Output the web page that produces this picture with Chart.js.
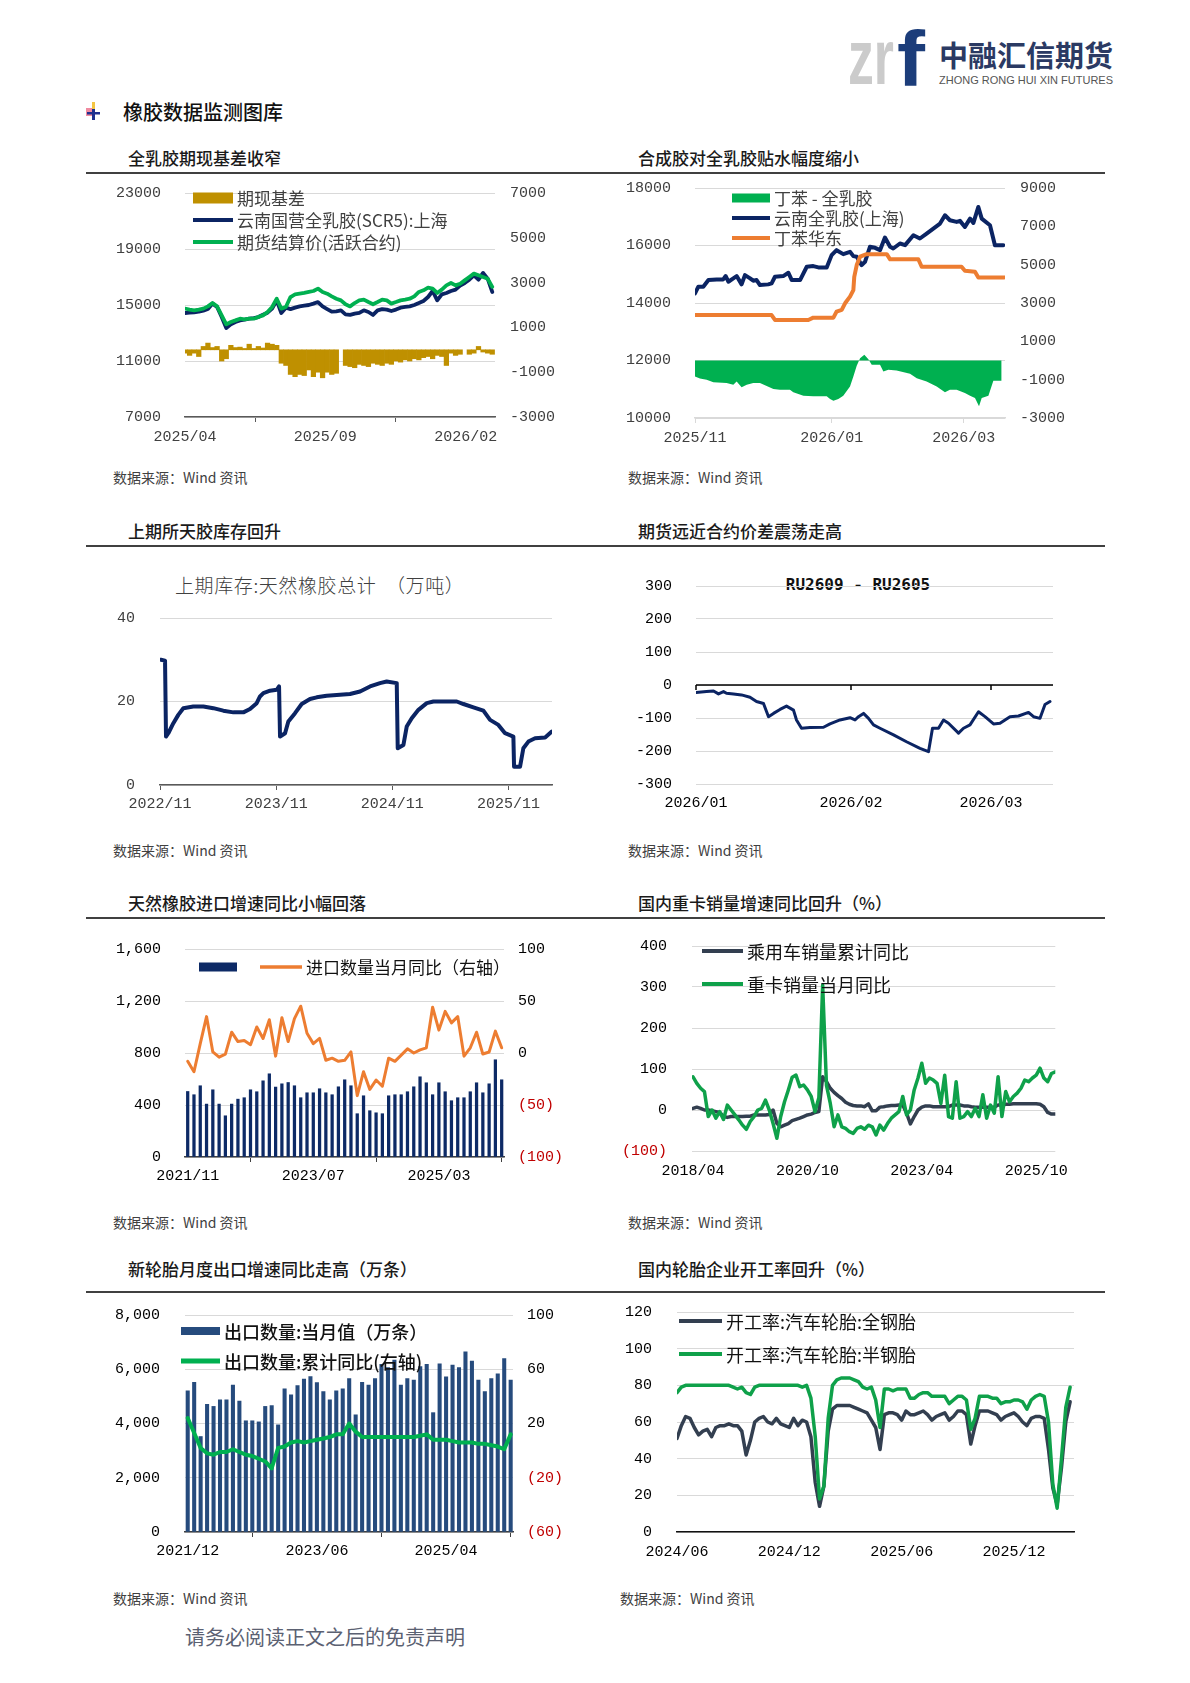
<!DOCTYPE html>
<html lang="zh-CN">
<head>
<meta charset="utf-8">
<title>橡胶数据监测图库</title>
<script src="https://cdn.jsdelivr.net/npm/chart.js@4.4.1/dist/chart.umd.min.js"></script>
<style>
  html, body { margin: 0; padding: 0; background: #fff; }
  body { position: relative; width: 1190px; height: 1683px; overflow: hidden; font-family: "Noto Sans CJK SC", sans-serif; }
  .t { position: absolute; white-space: nowrap; line-height: 1; }
  .sec { font-size: 17px; font-weight: 500; color: #1a1a1a; }
  .src { font-size: 14px; color: #404040; }
  .rule { position: absolute; left: 86px; width: 1019px; height: 1.5px; background: #404040; }
</style>
</head>
<body>

<!-- logo -->
<svg style="position:absolute;left:846px;top:28px" width="280" height="62">
  <text x="2" y="56" font-family="Liberation Sans" font-weight="bold" font-size="78" fill="#cbcbcb" textLength="46" lengthAdjust="spacingAndGlyphs">zr</text>
  <text x="51" y="58" font-family="Liberation Sans" font-weight="bold" font-size="77" fill="#1c3d7a" textLength="28" lengthAdjust="spacingAndGlyphs">f</text>
  <text x="93" y="39" font-family="Noto Sans CJK SC" font-weight="bold" font-size="29" fill="#2b3a63" textLength="174" lengthAdjust="spacingAndGlyphs">中融汇信期货</text>
  <text x="93" y="56" font-family="Liberation Sans" font-size="10.5" fill="#555" textLength="174" lengthAdjust="spacingAndGlyphs">ZHONG RONG HUI XIN FUTURES</text>
</svg>

<!-- section header -->
<svg style="position:absolute;left:84px;top:101px" width="20" height="20">
  <rect x="2" y="7" width="8" height="8" fill="#f08aa0"/>
  <rect x="8" y="1" width="3" height="11" fill="#f4c542"/>
  <rect x="8" y="8" width="3" height="11" fill="#1f2f8f"/>
  <rect x="3" y="11" width="13" height="2.5" fill="#1f2f8f"/>
</svg>
<div class="t" style="left:123px;top:102px;font-size:20px;font-weight:500;color:#111">橡胶数据监测图库</div>

<!-- row titles & rules -->
<div class="t sec" style="left:128px;top:149px">全乳胶期现基差收窄</div>
<div class="t sec" style="left:638px;top:149px">合成胶对全乳胶贴水幅度缩小</div>
<div class="rule" style="top:172px"></div>
<div class="t sec" style="left:128px;top:522px">上期所天胶库存回升</div>
<div class="t sec" style="left:638px;top:522px">期货远近合约价差震荡走高</div>
<div class="rule" style="top:545px"></div>
<div class="t sec" style="left:128px;top:894px">天然橡胶进口增速同比小幅回落</div>
<div class="t sec" style="left:638px;top:894px">国内重卡销量增速同比回升（%）</div>
<div class="rule" style="top:917px"></div>
<div class="t sec" style="left:128px;top:1260px">新轮胎月度出口增速同比走高（万条）</div>
<div class="t sec" style="left:638px;top:1260px">国内轮胎企业开工率回升（%）</div>
<div class="rule" style="top:1291px"></div>

<!-- in-chart titles -->
<div class="t" style="left:175px;top:575px;font-size:19px;letter-spacing:0.6px;font-weight:300;color:#404040">上期库存:天然橡胶总计&nbsp;&nbsp;（万吨）</div>
<div class="t" style="left:760px;top:575px;width:196px;text-align:center;font:bold 16px 'DejaVu Sans Mono',monospace;color:#111">RU2609 - RU2605</div>

<!-- sources -->
<div class="t src" style="left:113px;top:470px">数据来源：Wind 资讯</div>
<div class="t src" style="left:628px;top:470px">数据来源：Wind 资讯</div>
<div class="t src" style="left:113px;top:843px">数据来源：Wind 资讯</div>
<div class="t src" style="left:628px;top:843px">数据来源：Wind 资讯</div>
<div class="t src" style="left:113px;top:1215px">数据来源：Wind 资讯</div>
<div class="t src" style="left:628px;top:1215px">数据来源：Wind 资讯</div>
<div class="t src" style="left:113px;top:1591px">数据来源：Wind 资讯</div>
<div class="t src" style="left:620px;top:1591px">数据来源：Wind 资讯</div>
<div class="t" style="left:185px;top:1627px;font-size:20px;color:#5b6172">请务必阅读正文之后的免责声明</div>

<script>
// ---------- 全乳胶期现基差 (每5天一点，起点 2025/04/01) ----------
const c1StepDays = 5;
const c1Blue = [14430,14450,14480,14520,14600,14710,15100,14860,14140,13360,
  13620,13790,13900,13950,14020,14070,14140,14310,14450,14740,
  15330,14430,14810,14710,14810,14900,14950,15000,15100,15210,
  14900,14710,14520,14550,14620,14330,14290,14380,14430,14620,
  14500,14290,14620,14710,14670,14570,14670,14810,14860,14900,
  15000,15140,15290,15570,16000,15330,15760,15860,16000,16100,
  16380,16570,16810,17120,16810,17290,16880,15930];
const c1Green = [14740,14670,14620,14670,14740,14900,15140,14900,14260,13620,
  13790,13900,14020,13980,14020,14020,14140,14260,14500,14860,
  15450,14740,14860,15570,15760,15810,15860,15930,16000,16170,
  15930,15810,15620,15450,15330,15050,14900,15140,15330,15380,
  15210,15050,15210,15380,15330,15100,15210,15330,15380,15450,
  15620,15930,16050,16240,16170,15860,16100,16400,16570,16400,
  16520,16760,17000,17240,17120,17000,16880,16290];
const c1Basis = [-150,-250,-150,-300,150,300,100,150,-500,-400,
  200,100,120,60,250,60,150,80,300,250,
  200,-600,-700,-1100,-1200,-1100,-1150,-900,-1200,-1000,
  -1250,-1000,-1100,-1050,null,-700,-750,-800,-650,-700,
  -750,-600,-650,-700,-600,-650,-500,-550,-450,-500,
  -400,-450,-350,-300,-400,-250,-300,-700,-150,-250,
  -200,null,-200,-150,150,-100,-150,-200];
const c1TickDays = [0, 153, 306];
const c1TickLabels = ['2025/04', '2025/09', '2026/02'];

// ---------- 合成胶对全乳胶 (天，起点 2025/11/01) ----------
const c2BlueDays = [0,1.5,3.7,6,9.7,12.6,13.7,14.9,17.1,18.6,20.8,22.3,24.6,26,27.5,29,32.7,34.2,35.7,39.4,
  41.7,43.2,46.9,49.9,52.8,55.1,58.8,61,63.2,66.2,69.2,70.7,72.2,74.4,75.9,78.1,80.4,82.6,84.8,87.1,
  88.5,91.5,93.8,97.5,100.4,103.4,106.4,109.4,111.6,113.8,116.8,118.3,120.5,122.8,124.3,126.5,128,131.7,133.9,137.6];
const c2Blue = [14335,14567,14567,14798,14821,14821,14937,14740,14856,14937,14648,14971,14856,14775,14798,14624,14648,14682,14913,14937,
  15052,14798,14798,15260,15283,15237,15237,15665,15838,15700,15780,15630,15607,15318,15434,15954,15919,15838,16278,15954,
  15896,16070,16012,16358,16243,16416,16590,16763,17052,16879,16821,16856,16647,16936,16786,17341,16936,16705,16012,16012];
const c2SbrDays = [0,34.2,35.7,50.6,52.8,61.8,63.2,65.5,67,69.2,70.7,71.1,72.2,73.7,76.6,85.6,87.1,99.7,101.2,119,120.5,125,126.5,138];
const c2Sbr = [13580,13580,13410,13410,13490,13490,13700,13760,13990,14220,14450,14910,15320,15610,15700,15700,15520,15520,15260,15260,15120,15090,14890,14890];
const c2SpreadDays = [0,2.2,5.2,8.2,14.1,17.1,18.6,20.8,23.1,26,29,35,37.9,42.4,43.9,48.4,52.8,58.8,60.3,61.8,
  64,66.2,69.2,70.7,72.2,73.7,75.6,77.4,78.9,82.6,84.1,86.3,90,96,99,103.4,107.9,111.6,113.8,116.8,
  120.5,122.8,125,126.8,128,131,133.2,136.9];
const c2Spread = [-830,-940,-1000,-1140,-1180,-1260,-1090,-1400,-1260,-1180,-1180,-1490,-1520,-1520,-1660,-1840,-1870,-1870,-2010,-2100,
  -2010,-1840,-1350,-830,-280,120,300,70,-220,-220,-570,-480,-520,-690,-920,-1090,-1350,-1660,-1520,-1520,
  -1700,-1840,-1960,-2390,-1960,-1840,-1060,-1060];
const c2TickDays = [0, 61, 120];
const c2TickLabels = ['2025/11', '2026/01', '2026/03'];

// ---------- 上期所天胶库存 (月，起点 2022/11) ----------
const c3Months = [0.1,0.52,0.62,0.86,1.38,1.89,2.41,3.44,4.48,5.51,6.54,7.58,8.61,9.3,9.99,10.33,10.68,11.37,12.06,12.3,
  12.4,12.92,13.26,13.95,14.64,15.5,16.19,17.22,18.6,19.63,20.67,21.7,22.73,23.42,24.46,24.56,25.15,25.49,26.01,26.7,
  27.56,28.25,30.66,31.35,32.38,33.41,34.1,34.96,35.65,36.51,36.58,37.2,37.54,38.06,38.75,39.79,40.48];
const c3Stock = [30,29.8,11.6,12.4,14.8,16.8,18.4,18.8,18.8,18.4,17.8,17.4,17.4,18.2,19.6,21.2,22,22.6,22.8,23.6,
  11.6,12.4,15.2,17.2,19.4,20.6,21,21.4,21.6,21.8,22.4,23.6,24.4,24.8,24.4,8.8,9.6,14,16,18,
  19.6,20,20,19.4,18.6,17.8,15.6,14.4,12.4,11.6,4.4,4.4,8.8,10.4,11.2,11.4,12.8];
const c3TickMonths = [0, 12, 24, 36];
const c3TickLabels = ['2022/11', '2023/11', '2024/11', '2025/11'];

// ---------- RU2609 - RU2605 (天，起点 2026/01/01) ----------
const c4Days = [0,2.1,3.5,4.5,5.5,6.1,7.5,9.1,10.8,12.1,13.5,14.5,15.5,16.8,18.1,19.5,20.1,21.1,22.8,25.5,
  26.8,28.8,30.8,31.8,32.5,33.5,34.5,35.5,36.8,39.5,42.1,44.8,46.5,47.3,48.5,49.5,50.5,52.5,53.5,54.8,
  56.5,57.8,59.5,60.8,62.8,64.5,66.5,67.5,68.8,69.8,70.8];
const c4Spread = [-23,-20,-18,-27,-20,-25,-27,-30,-37,-50,-56,-96,-86,-74,-64,-76,-106,-131,-129,-128,
  -118,-106,-99,-106,-96,-86,-101,-121,-131,-151,-172,-192,-202,-131,-131,-106,-116,-146,-131,-121,
  -81,-96,-118,-116,-96,-94,-83,-96,-101,-59,-50];
const c4TickDays = [0, 31, 59];
const c4TickLabels = ['2026/01', '2026/02', '2026/03'];

// ---------- 天然橡胶进口 (月，2021/11 起) ----------
const c5Imports = [504,479,548,407,517,407,317,407,445,456,517,502,586,640,538,563,573,548,456,494,
  494,525,494,479,540,594,548,333,471,356,340,333,471,479,479,502,540,617,571,479,
  571,502,433,456,456,502,571,494,563,748,594];
const c5Yoy = [-8,-18,9,35,1,-4,-1,20,11,12,8,25,14,32,-3,34,11,33,45,19,
  9,14,-7,-5,-8,-7,1,-41,-18,-35,-26,-32,-5,-8,-2,4,0,3,5,44,
  22,40,29,35,-3,5,20,-1,1,21,5];
const c5TickIdx = [0, 20, 40];
const c5TickLabels = ['2021/11', '2023/07', '2025/03'];

// ---------- 重卡/乘用车 (月，2018/04 起) ----------
const c6Car = [4,7,4,0,0,-2,-4,-6,-16,-18,-16,-16,-16,-16,-15,-15,-12,-12,-12,-12,
  -11,0,-33,-41,-37,-33,-26,-23,-20,-16,-12,-10,-6,-4,81,69,53,43,35,28,
  19,14,11,10,10,8,15,-2,-2,7,8,10,11,11,12,12,-8,-34,-16,0,
  7,10,10,8,8,8,8,8,12,12,12,10,10,8,7,7,7,7,7,7,
  12,12,14,14,15,15,15,15,15,15,15,14,8,-6,-10,-10];
const c6Truck = [81,65,53,45,-16,0,-20,-4,-23,12,0,-12,-24,-37,-47,-28,-16,0,4,24,
  0,-33,-69,-16,20,49,80,85,57,61,49,33,-4,30,305,60,16,-41,-12,-41,
  -45,-53,-57,-45,-41,-47,-37,-41,-61,-37,-49,-33,-20,-12,-4,33,-12,0,49,78,
  114,65,78,73,65,16,85,-16,-20,69,-20,-16,-4,-16,4,-16,37,-20,12,-8,
  81,-16,45,20,33,41,53,73,69,78,85,102,78,69,89,93];
const c6TickIdx = [0, 30, 60, 90];
const c6TickLabels = ['2018/04', '2020/10', '2023/04', '2025/10'];

// ---------- 新轮胎出口 ----------
const c7Exports = [5200,5520,3520,4710,4630,4870,4870,5420,4830,4100,4100,4060,4630,4660,3950,5280,5060,5400,5640,5730,
  5510,5180,4870,5200,5280,5660,4320,5520,5420,5660,6180,6060,6340,5420,5660,5600,6100,6180,4400,6200,
  5720,6150,6060,6640,6300,5600,5180,5660,5830,6390,5600];
const c7Yoy = [24,13,2,-2,-3,-1,-1,1,-1,-3,-4,-6,-8,-13,2,3,6,7,6,7,
  8,9,10,12,12,20,14,10,10,10,10,10,10,10,10,10,11,12,8,8,
  8,7,6,6,6,5,5,4,3,1,12];
const c7TickIdx = [0, 20, 40];
const c7TickLabels = ['2021/12', '2023/06', '2025/04'];

// ---------- 轮胎开工率 (周，2024/06 起) ----------
const c8AllSteel = [51,58,63,62,57,53,55,56,52,57,58,58,59,58,58,55,42,50,60,62,
  63,60,59,62,59,58,57,62,58,61,60,52,27,14,25,55,67,69,69,69,
  69,68,67,66,65,61,57,45,64,65,65,64,61,66,64,64,65,66,64,61,
  63,64,65,61,63,66,66,64,48,58,66,66,66,65,64,61,63,64,65,63,
  60,58,62,63,63,62,45,24,15,35,60,71];
const c8SemiSteel = [76,79,80,80,80,80,80,80,80,80,80,80,80,79,78,79,76,75,79,80,
  80,80,80,80,80,80,80,80,80,79,80,73,52,18,25,62,80,83,84,84,
  84,83,82,79,78,79,72,57,78,78,77,78,78,78,73,73,75,76,76,74,
  74,74,74,70,72,74,74,72,56,62,74,74,74,73,73,70,71,71,72,72,
  71,67,72,74,75,74,60,26,13,40,68,79];
const c8TickWeeks = [0, 26, 52, 78];
const c8TickLabels = ['2024/06', '2024/12', '2025/06', '2025/12'];

// ---------- styling ----------
const MONO = "'Liberation Mono', 'DejaVu Sans Mono', monospace";
const CJK = "'Noto Sans CJK SC', sans-serif";
const NAVY = '#0b2463';
const GREEN = '#00b050';
const ORANGE = '#ed7d31';
const GOLD = '#bf9000';
const SLATE = '#333f50';
const GRID = '#d9d9d9';

const pts = (xs, ys) => ys.map((v, i) => ({ x: xs[i], y: v }));
const idxPts = (ys, step) => ys.map((v, i) => ({ x: i * (step || 1), y: v }));
const paren = v => (v < 0 ? '(' + (-v) + ')' : String(v));
const redNeg = c => (c.tick && c.tick.value < 0 ? '#c00000' : '#000');

function xAxis(o) {
  return {
    type: 'linear', min: o.min, max: o.max, offset: false,
    afterBuildTicks: s => { s.ticks = o.ticks.map(v => ({ value: v })); },
    afterFit: s => { s.height = o.height; },
    ticks: {
      callback: (v, i) => o.labels[i], autoSkip: false, maxRotation: 0,
      padding: o.padding, font: { family: MONO, size: 15 }, color: o.color || '#000'
    },
    grid: { display: !!o.tickColor, drawOnChartArea: false, drawTicks: !!o.tickColor, tickLength: 5, color: o.tickColor },
    border: { display: !!o.lineColor, color: o.lineColor, width: o.lineWidth || 1.5 }
  };
}

function yAxis(o) {
  return {
    type: 'linear', position: o.position || 'left', min: o.min, max: o.max,
    // fixed width; drop the vertical padding Chart.js derives from ticks.padding
    afterFit: s => { s.width = o.width; s.paddingTop = 0; s.paddingBottom = 0; },
    ticks: {
      stepSize: o.step, padding: o.padding, callback: o.format || (v => String(v)),
      font: { family: MONO, size: 15 }, color: o.color || '#000'
    },
    grid: { display: o.grid !== false, drawOnChartArea: o.grid !== false, drawTicks: false, color: GRID, lineWidth: 1 },
    border: { display: false }
  };
}

// legend drawn inside the plot, like the Excel originals
function legendPlugin(rect, items, font, color) {
  return {
    id: 'insideLegend',
    afterDraw(chart) {
      const ctx = chart.ctx;
      ctx.save();
      ctx.font = font;
      ctx.textBaseline = 'middle';
      items.forEach(it => {
        const ds = chart.data.datasets[it.ds];
        const x = it.x - rect.x, y = it.y - rect.y;
        if (it.box) {
          ctx.fillStyle = ds.backgroundColor;
          ctx.fillRect(x, y - it.h / 2, it.w, it.h);
        } else {
          ctx.strokeStyle = ds.borderColor;
          ctx.lineWidth = it.h;
          ctx.beginPath();
          ctx.moveTo(x, y);
          ctx.lineTo(x + it.w, y);
          ctx.stroke();
        }
        if (!it.noText) {
          ctx.fillStyle = color;
          ctx.fillText(ds.label, x + it.w + 4, y + 1);
        }
      });
      ctx.restore();
    }
  };
}

// zero line with tick marks (RU spread chart)
const zeroAxis = {
  id: 'zeroAxis',
  beforeDatasetsDraw(chart) {
    const { ctx, chartArea: a, scales: { x, y } } = chart;
    const y0 = y.getPixelForValue(0);
    ctx.save();
    ctx.strokeStyle = '#000';
    ctx.lineWidth = 1.5;
    ctx.beginPath();
    ctx.moveTo(a.left, y0);
    ctx.lineTo(a.right, y0);
    x.ticks.forEach(t => {
      const px = x.getPixelForValue(t.value);
      ctx.moveTo(px, y0);
      ctx.lineTo(px, y0 + 5);
    });
    ctx.stroke();
    ctx.restore();
  }
};

function makeChart(rect, plot, cfg, hasRight) {
  const c = document.createElement('canvas');
  c.width = rect.w;
  c.height = rect.h;
  c.style.cssText = `position:absolute;left:${rect.x}px;top:${rect.y}px;width:${rect.w}px;height:${rect.h}px`;
  document.body.appendChild(c);
  cfg.options = Object.assign({
    responsive: false,
    animation: false,
    layout: { padding: { top: plot.t - rect.y, left: 0, bottom: 0, right: hasRight ? 0 : rect.x + rect.w - plot.r } },
    plugins: { legend: { display: false }, tooltip: { enabled: false } },
    elements: { point: { radius: 0 }, line: { tension: 0, borderJoinStyle: 'round', borderCapStyle: 'round' } }
  }, cfg.options);
  return new Chart(c.getContext('2d'), cfg);
}

const lineDs = (label, data, color, width, extra) => Object.assign({
  type: 'line', label, data, borderColor: color, backgroundColor: color, borderWidth: width, pointRadius: 0, fill: false
}, extra || {});

// ---------- chart 1 ----------
(function () {
  const rect = { x: 100, y: 180, w: 470, h: 280 }, plot = { l: 185, t: 193, r: 495, b: 417 };
  makeChart(rect, plot, {
    type: 'line',
    data: {
      datasets: [
        { type: 'bar', label: '期现基差', data: idxPts(c1Basis, c1StepDays), yAxisID: 'y2', backgroundColor: GOLD,
          barPercentage: 1, categoryPercentage: 1, order: 3 },
        lineDs('云南国营全乳胶(SCR5):上海', idxPts(c1Blue, c1StepDays), NAVY, 3.8, { yAxisID: 'y', order: 2 }),
        lineDs('期货结算价(活跃合约)', idxPts(c1Green, c1StepDays), GREEN, 3.8, { yAxisID: 'y', order: 1 })
      ]
    },
    options: {
      scales: {
        x: xAxis({ min: 0, max: 338, ticks: c1TickDays, labels: c1TickLabels, height: rect.y + rect.h - plot.b,
          padding: 6, tickColor: '#595959', lineColor: '#595959', color: '#404040' }),
        y: yAxis({ min: 7000, max: 23000, step: 4000, width: plot.l - rect.x, padding: 24, color: '#404040' }),
        y2: yAxis({ position: 'right', min: -3000, max: 7000, step: 2000, width: rect.x + rect.w - plot.r, padding: 15, grid: false, color: '#404040' })
      }
    },
    plugins: [legendPlugin(rect, [
      { ds: 0, box: true, x: 193, y: 198, w: 40, h: 11 },
      { ds: 1, x: 193, y: 220, w: 40, h: 4 },
      { ds: 2, x: 193, y: 242, w: 40, h: 4 }
    ], `17px ${CJK}`, '#404040')]
  }, true);
})();

// ---------- chart 2 ----------
(function () {
  const rect = { x: 615, y: 175, w: 465, h: 285 }, plot = { l: 695, t: 188, r: 1005, b: 418 };
  makeChart(rect, plot, {
    type: 'line',
    data: {
      datasets: [
        lineDs('丁苯 - 全乳胶', pts(c2SpreadDays, c2Spread), GREEN, 0, { yAxisID: 'y2', fill: 'origin', order: 3 }),
        lineDs('云南全乳胶(上海)', pts(c2BlueDays, c2Blue), NAVY, 4, { yAxisID: 'y', order: 2 }),
        lineDs('丁苯华东', pts(c2SbrDays, c2Sbr), ORANGE, 4, { yAxisID: 'y', order: 1 })
      ]
    },
    options: {
      scales: {
        x: xAxis({ min: 0, max: 138.4, ticks: c2TickDays, labels: c2TickLabels, height: rect.y + rect.h - plot.b,
          padding: 6, tickColor: GRID, lineColor: GRID, color: '#404040' }),
        y: yAxis({ min: 10000, max: 18000, step: 2000, width: plot.l - rect.x, padding: 24, color: '#404040' }),
        y2: yAxis({ position: 'right', min: -3000, max: 9000, step: 2000, width: rect.x + rect.w - plot.r, padding: 15, grid: false, color: '#404040' })
      }
    },
    plugins: [legendPlugin(rect, [
      { ds: 0, box: true, x: 732, y: 198, w: 38, h: 9 },
      { ds: 1, x: 732, y: 218, w: 38, h: 4 },
      { ds: 2, x: 732, y: 238, w: 38, h: 4 }
    ], `17px ${CJK}`, '#404040')]
  }, true);
})();

// ---------- chart 3 ----------
(function () {
  const rect = { x: 100, y: 600, w: 470, h: 225 }, plot = { l: 160, t: 618, r: 552, b: 785 };
  makeChart(rect, plot, {
    type: 'line',
    data: { datasets: [lineDs('上期库存:天然橡胶总计', pts(c3Months, c3Stock), NAVY, 4)] },
    options: {
      scales: {
        x: xAxis({ min: 0, max: 40.5, ticks: c3TickMonths, labels: c3TickLabels, height: rect.y + rect.h - plot.b,
          padding: 5, tickColor: '#595959', lineColor: '#595959', color: '#404040' }),
        y: yAxis({ min: 0, max: 40, step: 20, width: plot.l - rect.x, padding: 25, color: '#404040' })
      }
    }
  }, false);
})();

// ---------- chart 4 ----------
(function () {
  const rect = { x: 620, y: 570, w: 460, h: 250 }, plot = { l: 696, t: 586, r: 1053, b: 784 };
  makeChart(rect, plot, {
    type: 'line',
    data: { datasets: [lineDs('RU2609 - RU2605', pts(c4Days, c4Spread), NAVY, 3)] },
    options: {
      scales: {
        x: xAxis({ min: 0, max: 71.4, ticks: c4TickDays, labels: c4TickLabels, height: rect.y + rect.h - plot.b, padding: 10 }),
        y: yAxis({ min: -300, max: 300, step: 100, width: plot.l - rect.x, padding: 24 })
      }
    },
    plugins: [zeroAxis]
  }, false);
})();

// ---------- chart 5 ----------
(function () {
  const rect = { x: 100, y: 935, w: 470, h: 260 }, plot = { l: 185, t: 949, r: 504, b: 1157 };
  makeChart(rect, plot, {
    type: 'line',
    data: {
      datasets: [
        { type: 'bar', label: '进口数量', data: idxPts(c5Imports), yAxisID: 'y', backgroundColor: '#0d2a66', barThickness: 2.6, order: 2 },
        lineDs('进口数量当月同比（右轴）', idxPts(c5Yoy), ORANGE, 3, { yAxisID: 'y2', order: 1 })
      ]
    },
    options: {
      scales: {
        x: xAxis({ min: -0.43, max: 50.37, ticks: c5TickIdx, labels: c5TickLabels, height: rect.y + rect.h - plot.b,
          padding: 5, tickColor: '#404040', lineColor: '#404040' }),
        y: yAxis({ min: 0, max: 1600, step: 400, width: plot.l - rect.x, padding: 24, format: v => v.toLocaleString('en-US') }),
        y2: yAxis({ position: 'right', min: -100, max: 100, step: 50, width: rect.x + rect.w - plot.r, padding: 14,
          grid: false, format: paren, color: redNeg })
      }
    },
    plugins: [legendPlugin(rect, [
      { ds: 0, box: true, noText: true, x: 199, y: 967, w: 38, h: 9 },
      { ds: 1, x: 260, y: 967, w: 42, h: 3.5 }
    ], `17px ${CJK}`, '#111')]
  }, true);
})();

// ---------- chart 6 ----------
(function () {
  const rect = { x: 620, y: 930, w: 460, h: 260 }, plot = { l: 692, t: 946, r: 1056, b: 1151 };
  makeChart(rect, plot, {
    type: 'line',
    data: {
      datasets: [
        lineDs('乘用车销量累计同比', idxPts(c6Car), SLATE, 3.5, { order: 2 }),
        lineDs('重卡销量当月同比', idxPts(c6Truck), '#0fa14a', 3.5, { order: 1 })
      ]
    },
    options: {
      scales: {
        x: xAxis({ min: -0.26, max: 95, ticks: c6TickIdx, labels: c6TickLabels, height: rect.y + rect.h - plot.b, padding: 11 }),
        y: yAxis({ min: -100, max: 400, step: 100, width: plot.l - rect.x, padding: 25, format: paren, color: redNeg })
      }
    },
    plugins: [legendPlugin(rect, [
      { ds: 0, x: 702, y: 951, w: 41, h: 4 },
      { ds: 1, x: 702, y: 984, w: 41, h: 4 }
    ], `18px ${CJK}`, '#111')]
  }, false);
})();

// ---------- chart 7 ----------
(function () {
  const rect = { x: 100, y: 1300, w: 475, h: 270 }, plot = { l: 185, t: 1315, r: 513, b: 1532 };
  makeChart(rect, plot, {
    type: 'line',
    data: {
      datasets: [
        { type: 'bar', label: '出口数量:当月值（万条）', data: idxPts(c7Exports), yAxisID: 'y', backgroundColor: '#264b7d', barThickness: 3.4, order: 2 },
        lineDs('出口数量:累计同比(右轴)', idxPts(c7Yoy), GREEN, 4, { yAxisID: 'y2', order: 1 })
      ]
    },
    options: {
      scales: {
        x: xAxis({ min: -0.42, max: 50.36, ticks: c7TickIdx, labels: c7TickLabels, height: rect.y + rect.h - plot.b,
          padding: 5, tickColor: '#404040', lineColor: '#404040' }),
        y: yAxis({ min: 0, max: 8000, step: 2000, width: plot.l - rect.x, padding: 25, format: v => v.toLocaleString('en-US') }),
        y2: yAxis({ position: 'right', min: -60, max: 100, step: 40, width: rect.x + rect.w - plot.r, padding: 14,
          grid: false, format: paren, color: redNeg })
      }
    },
    plugins: [legendPlugin(rect, [
      { ds: 0, box: true, x: 181, y: 1331, w: 39, h: 8 },
      { ds: 1, x: 181, y: 1361, w: 39, h: 5 }
    ], `500 18px ${CJK}`, '#111')]
  }, true);
})();

// ---------- chart 8 ----------
(function () {
  const rect = { x: 610, y: 1295, w: 480, h: 275 }, plot = { l: 677, t: 1312, r: 1074, b: 1532 };
  makeChart(rect, plot, {
    type: 'line',
    data: {
      datasets: [
        lineDs('开工率:汽车轮胎:全钢胎', idxPts(c8AllSteel), SLATE, 3.5, { order: 2 }),
        lineDs('开工率:汽车轮胎:半钢胎', idxPts(c8SemiSteel), '#0fa14a', 3.5, { order: 1 })
      ]
    },
    options: {
      scales: {
        x: xAxis({ min: 0, max: 91.9, ticks: c8TickWeeks, labels: c8TickLabels, height: rect.y + rect.h - plot.b,
          padding: 11, lineColor: '#111' }),
        y: yAxis({ min: 0, max: 120, step: 20, width: plot.l - rect.x, padding: 25 })
      }
    },
    plugins: [legendPlugin(rect, [
      { ds: 0, x: 679, y: 1321, w: 43, h: 4 },
      { ds: 1, x: 679, y: 1354, w: 43, h: 4 }
    ], `18px ${CJK}`, '#111')]
  }, false);
})();
</script>
</body>
</html>
